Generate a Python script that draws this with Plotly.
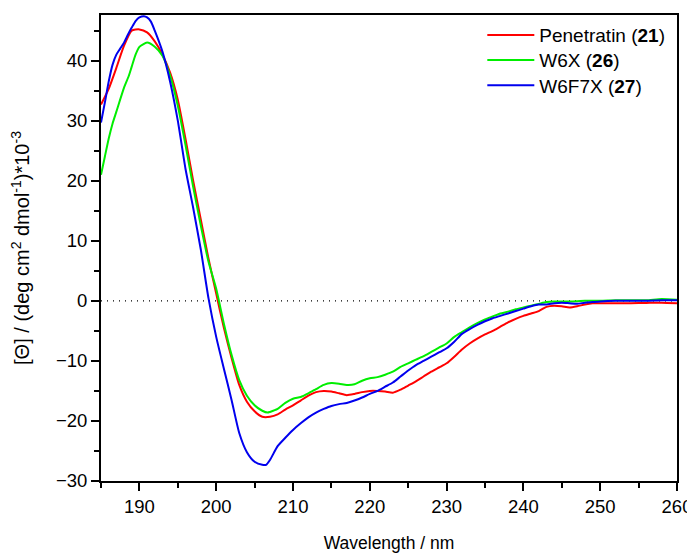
import plotly.graph_objects as go

# Penetratin (21)
red_x = [185, 186, 187, 188, 189, 190, 191, 192, 193, 194, 195, 196, 197, 198, 199, 200,
         201, 202, 203, 204, 205, 206, 207, 208, 209, 210, 211, 212, 213, 214, 215, 216,
         217, 218, 219, 220, 221, 222, 223, 224, 225, 226, 227, 228, 229, 230, 231, 232,
         233, 234, 235, 236, 237, 238, 239, 240, 241, 242, 243, 244, 245, 246, 247, 248,
         249, 250, 252, 254, 256, 258, 260]
red_y = [32.7, 35.3, 38.8, 42.5, 45.0, 45.2, 44.7, 43.2, 41.0, 38.0, 33.5, 27.0, 20.0, 13.5, 7.0, 1.2,
         -4.5, -9.5, -14.0, -16.8, -18.4, -19.3, -19.3, -18.9, -18.1, -17.4, -16.6, -15.8, -15.2, -15.0, -15.1, -15.4,
         -15.7, -15.5, -15.2, -15.0, -15.0, -15.1, -15.3, -14.8, -14.1, -13.4, -12.6, -11.8, -11.1, -10.4, -9.3, -8.1,
         -7.1, -6.3, -5.6, -5.0, -4.3, -3.6, -3.0, -2.5, -2.1, -1.7, -1.0, -0.8, -0.9, -1.1, -0.9, -0.6,
         -0.4, -0.4, -0.4, -0.4, -0.35, -0.3, -0.4]

# W6X (26)
green_x = [185, 185.5, 186, 186.5, 187, 188, 188.6, 189, 189.5, 190, 191, 192, 193, 194, 195, 196,
           197, 198, 199, 200, 201, 202, 203, 204, 205, 206, 206.7, 207, 208, 209, 210, 211,
           212, 213, 214, 215, 216, 217, 218, 219, 220, 221, 222, 223, 224, 225, 226, 227,
           228, 229, 230, 231, 232, 233, 234, 235, 236, 237, 238, 239, 240, 241, 242, 243,
           244, 246, 248, 250, 252, 254, 256, 258, 260]
green_y = [21.0, 24.0, 27.0, 29.5, 31.5, 35.5, 37.4, 39.0, 41.0, 42.3, 43.0, 42.3, 40.8, 37.5, 32.5, 26.0,
           19.0, 12.5, 6.5, 2.0, -3.8, -9.0, -13.2, -15.8, -17.4, -18.3, -18.6, -18.5, -18.0, -17.0, -16.3, -16.0,
           -15.4, -14.7, -14.0, -13.7, -13.8, -14.0, -13.9, -13.3, -12.9, -12.7, -12.3, -11.8, -11.0, -10.4, -9.8, -9.2,
           -8.5, -7.8, -7.1, -6.0, -5.2, -4.4, -3.7, -3.1, -2.6, -2.1, -1.8, -1.4, -1.1, -0.8, -0.5, -0.2,
           -0.1, -0.1, 0.0, 0.0, 0.1, 0.1, 0.1, 0.3, 0.2]

# W6F7X (27)
blue_x = [185, 185.5, 186, 186.5, 187, 187.5, 188, 188.5, 189, 189.5, 190, 190.6, 191, 191.5, 192, 193,
          194, 195, 196, 197, 198, 199, 200, 201, 202, 203, 204, 205, 206, 206.5, 207, 208,
          209, 210, 211, 212, 213, 214, 215, 216, 217, 218, 219, 220, 221, 222, 223, 224,
          225, 226, 227, 228, 229, 230, 231, 232, 233, 234, 235, 236, 237, 238, 239, 240,
          241, 242, 243, 244, 245, 246, 247, 248, 249, 250, 252, 254, 256, 258, 260]
blue_y = [29.7, 33.0, 36.5, 39.3, 41.0, 42.0, 43.0, 44.3, 45.5, 46.6, 47.2, 47.4, 47.2, 46.5, 45.0, 41.5,
          36.5, 30.0, 22.0, 15.5, 8.5, 0.4, -6.0, -11.3, -16.5, -22.0, -25.2, -26.8, -27.3, -27.3, -26.5, -24.2,
          -22.8, -21.5, -20.4, -19.4, -18.6, -18.0, -17.5, -17.2, -17.0, -16.6, -16.1, -15.5, -15.0, -14.3, -13.6, -12.6,
          -11.6, -10.7, -10.0, -9.3, -8.6, -7.9, -6.8, -5.5, -4.7, -4.0, -3.4, -2.9, -2.5, -2.1, -1.7, -1.3,
          -0.9, -0.6, -0.6, -0.4, -0.3, -0.4, -0.5, -0.3, -0.2, -0.1, 0.0, 0.0, 0.0, 0.1, 0.1]

series = [
    ("Penetratin (<b>21</b>)", red_x, red_y, "#ff0000"),
    ("W6X (<b>26</b>)", green_x, green_y, "#00ee00"),
    ("W6F7X (<b>27</b>)", blue_x, blue_y, "#0000ee"),
]

x_range = [185, 260]
y_range = [-30, 47.6]

FONT = "Liberation Sans, Arial, sans-serif"
legend_names = ["legend", "legend2", "legend3"]
legend_rows = [0.957, 0.903, 0.849]

fig = go.Figure()
for i, (name, xs, ys, color) in enumerate(series):
    fig.add_trace(go.Scatter(
        x=xs, y=ys, name=name, mode="lines",
        line=dict(color=color, width=2, shape="spline", smoothing=0.6),
        legend=legend_names[i],
    ))

fig.add_shape(type="line", xref="x", yref="y", x0=x_range[0], x1=x_range[1], y0=0, y1=0,
              line=dict(color="black", width=1.2, dash="1px,5px"), layer="below")

legend_common = dict(
    xanchor="left", yanchor="middle",
    bgcolor="rgba(0,0,0,0)", borderwidth=0,
    font=dict(family=FONT, size=19, color="black"),
    itemwidth=47,
)

layout_legends = {}
for lname, ly in zip(legend_names, legend_rows):
    layout_legends[lname] = dict(legend_common, x=0.662, y=ly)

fig.update_layout(
    width=695, height=554,
    margin=dict(l=93, r=26, t=7, b=81),
    paper_bgcolor="white", plot_bgcolor="white",
    font=dict(family=FONT, size=18, color="black"),
    showlegend=True,
    xaxis=dict(
        range=x_range, tickmode="array", tickvals=[190, 200, 210, 220, 230, 240, 250, 260],
        ticks="outside", ticklen=8, tickwidth=1.5, tickcolor="black",
        minor=dict(tickvals=[185, 195, 205, 215, 225, 235, 245, 255], ticks="outside", ticklen=5,
                   tickwidth=1.5, tickcolor="black"),
        showline=True, linecolor="black", linewidth=2, mirror=True,
        showgrid=False, zeroline=False, automargin=False,
        tickfont=dict(size=18.5),
        title=dict(text="Wavelength / nm", font=dict(size=17.5), standoff=21),
    ),
    yaxis=dict(
        range=y_range, tickmode="array", tickvals=[-30, -20, -10, 0, 10, 20, 30, 40],
        ticks="outside", ticklen=8, tickwidth=1.5, tickcolor="black",
        minor=dict(tickvals=[-25, -15, -5, 5, 15, 25, 35, 45], ticks="outside", ticklen=5,
                   tickwidth=1.5, tickcolor="black"),
        showline=True, linecolor="black", linewidth=2, mirror=True,
        showgrid=False, zeroline=False, automargin=False,
        tickfont=dict(size=18.5),
        title=dict(text="[\u0398] / (deg cm<sup>2</sup> dmol<sup>-1</sup>)*10<sup>-3</sup>",
                   font=dict(size=20), standoff=22),
    ),
    **layout_legends,
)

fig.write_html("out.html")
